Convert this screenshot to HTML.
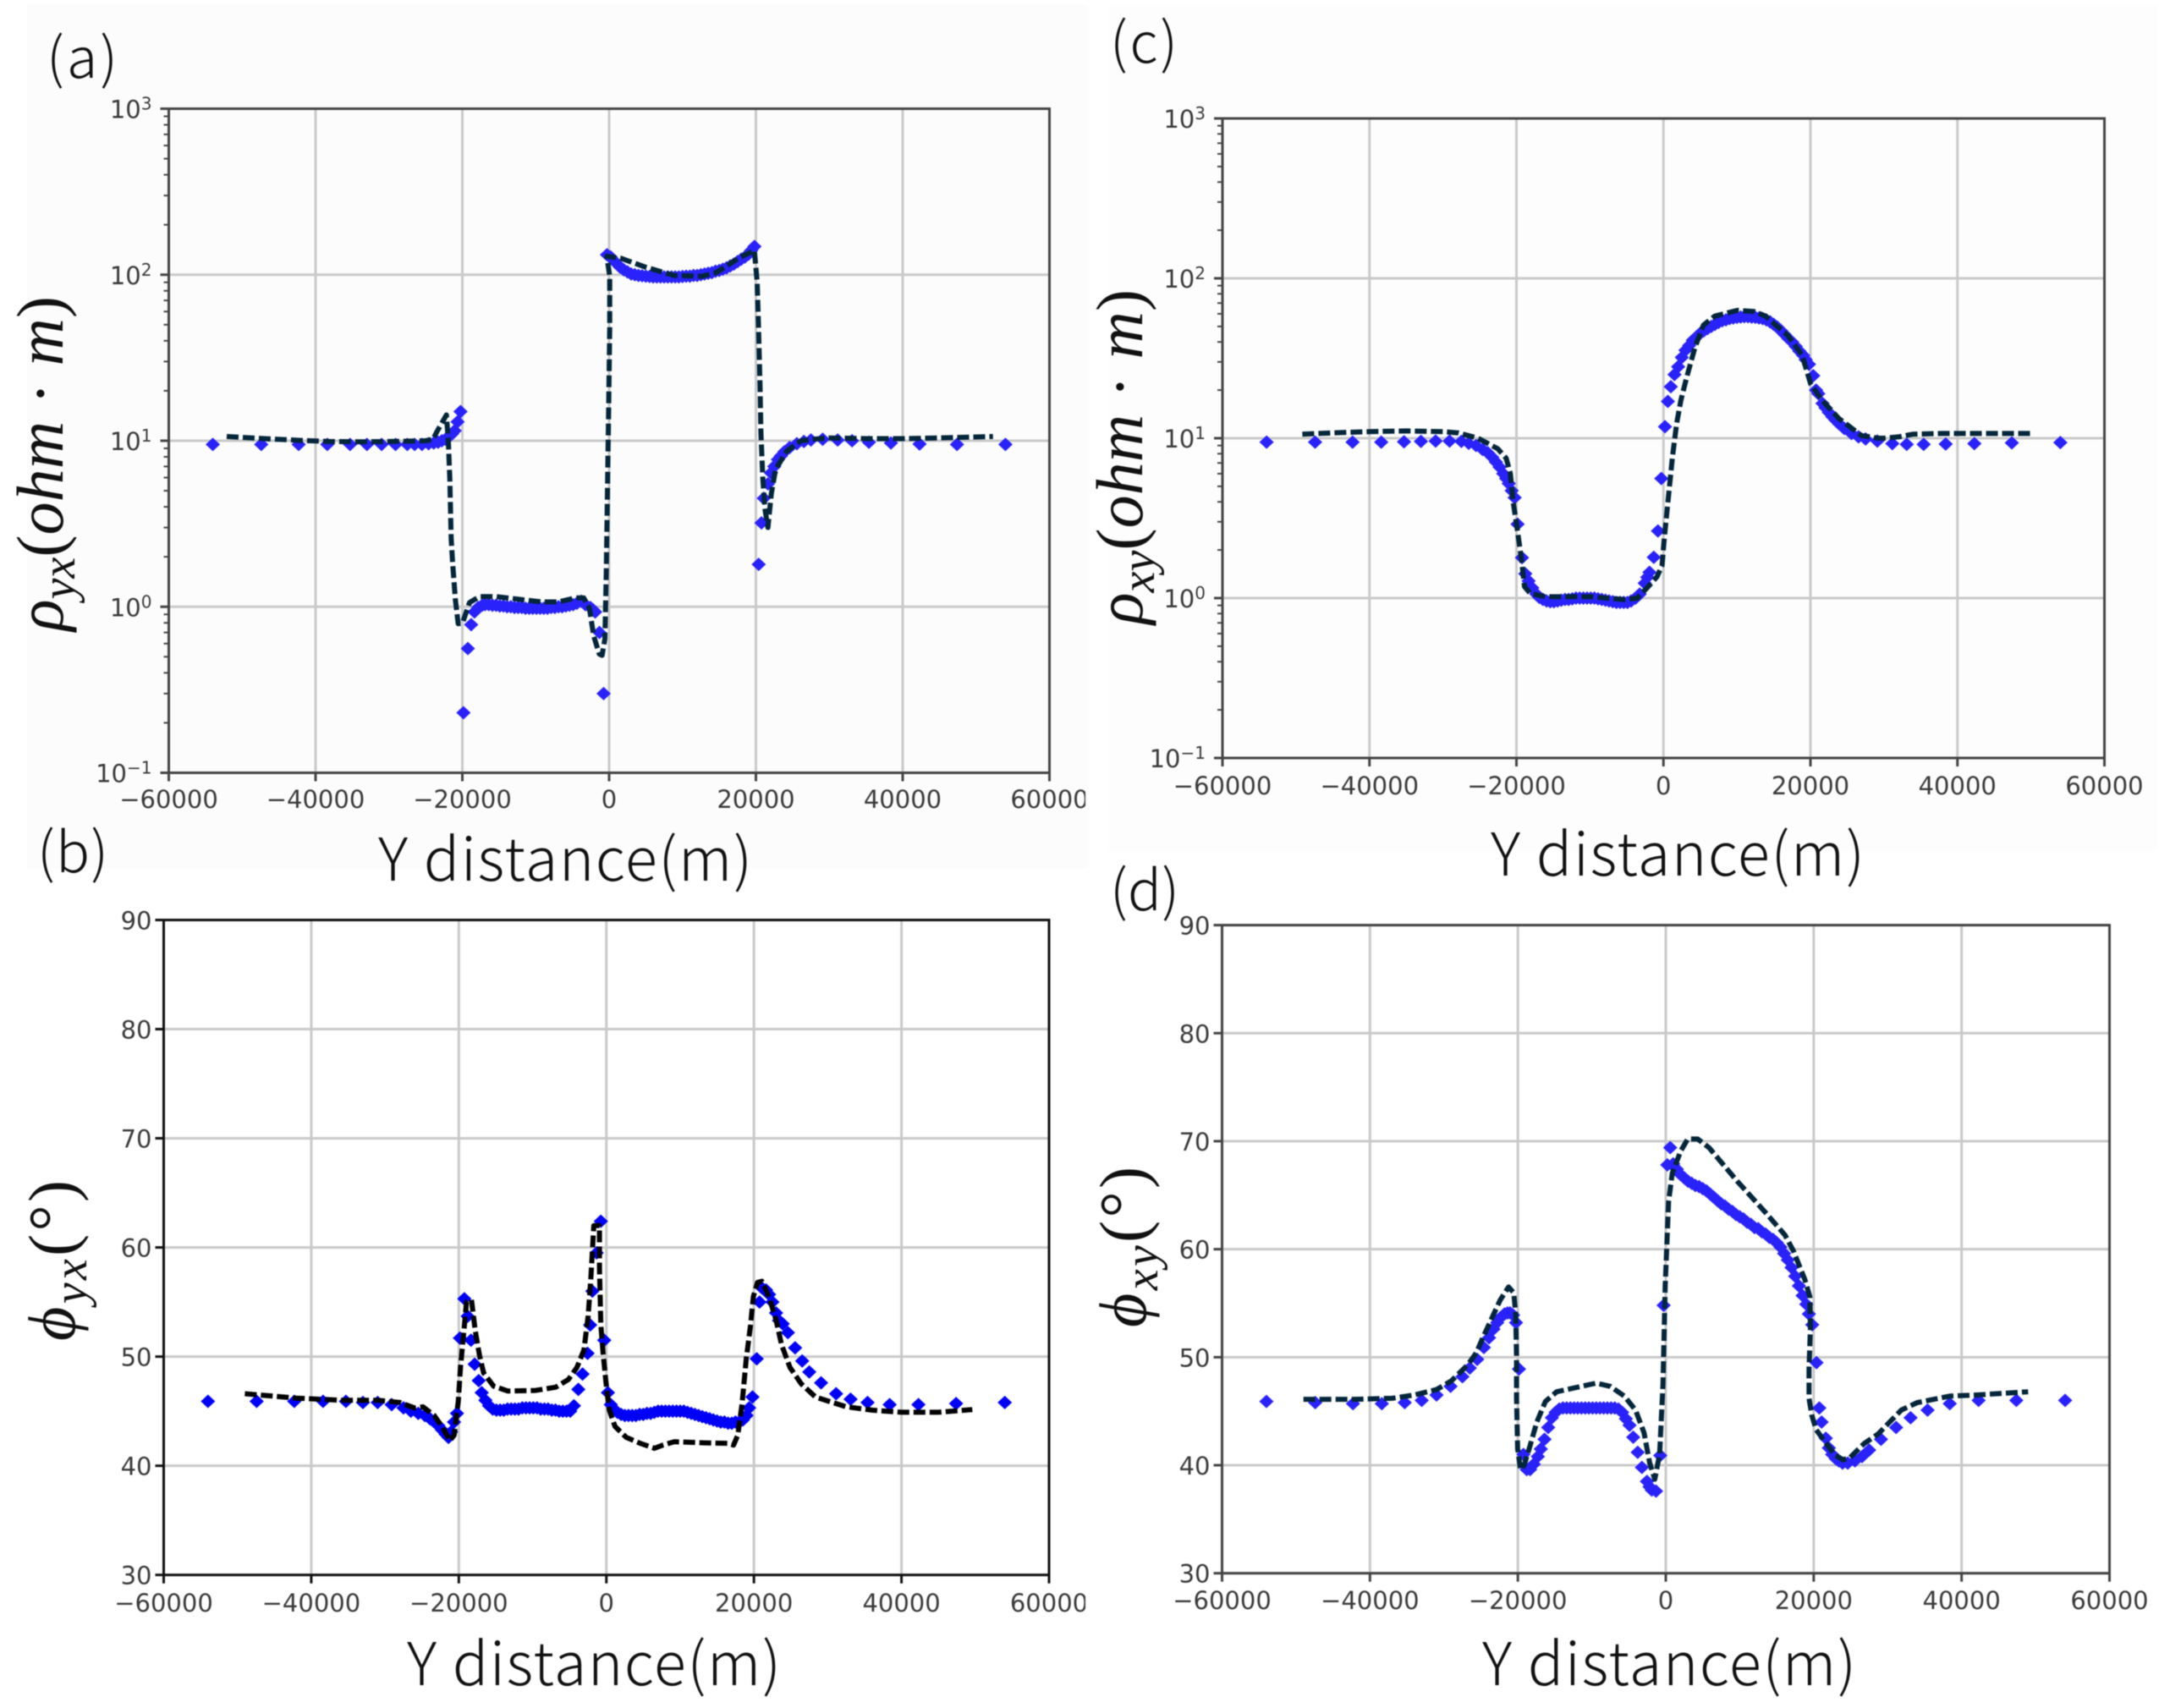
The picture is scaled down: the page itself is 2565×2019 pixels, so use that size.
<!DOCTYPE html>
<html>
<head>
<meta charset="utf-8">
<title>Apparent resistivity and phase profiles</title>
<style>
html,body{margin:0;padding:0;background:#fff;}
svg{display:block;filter:blur(0.6px);}
.tick-text{font-family:"DejaVu Sans",sans-serif;font-size:29px;fill:#3a3a3a;}
.title-x{font-family:"Noto Sans CJK JP","Liberation Sans",sans-serif;font-size:70px;font-weight:300;fill:#111;}
.panel-tag{font-family:"Noto Sans CJK JP","Liberation Sans",sans-serif;font-size:66px;font-weight:300;fill:#111;}
.title-y{font-family:"Liberation Serif",serif;font-size:78px;fill:#111;font-style:italic;}
.title-y .up{font-style:normal;}
</style>
</head>
<body>
<svg id="figure" xmlns="http://www.w3.org/2000/svg" width="2565" height="2019" viewBox="0 0 2565 2019">
  <defs>
    <clipPath id="clip-right"><rect x="0" y="0" width="1283" height="2019"/></clipPath>
  </defs>
  <rect x="0" y="0" width="2565" height="2019" fill="#ffffff"/>
  <rect x="32" y="6" width="1254" height="1020" fill="#fcfcfc"/>
  <rect x="1310" y="6" width="1240" height="1000" fill="#fdfdfd"/>
  <g id="panel-a"></g>
  <g id="panel-b"></g>
  <g id="panel-c"></g>
  <g id="panel-d"></g>

  <text class="panel-tag" x="55" y="92" textLength="84">(a)</text>
  <text class="panel-tag" x="44" y="1031" textLength="84">(b)</text>
  <text class="panel-tag" x="1312" y="74" textLength="80">(c)</text>
  <text class="panel-tag" x="1312" y="1076" textLength="82">(d)</text>

  <text class="title-x" x="447" y="1041" textLength="442" lengthAdjust="spacing">Y distance(m)</text>
  <text class="title-x" x="481" y="1992" textLength="442" lengthAdjust="spacing">Y distance(m)</text>
  <text class="title-x" x="1762" y="1035" textLength="442" lengthAdjust="spacing">Y distance(m)</text>
  <text class="title-x" x="1752" y="1992" textLength="442" lengthAdjust="spacing">Y distance(m)</text>

  <text class="title-y" transform="translate(74,746) rotate(-90)" textLength="396">ρ<tspan dy="14" font-size="56">yx</tspan><tspan dy="-14" class="up">(</tspan>ohm<tspan class="up"> · </tspan>m<tspan class="up">)</tspan></text>
  <text class="title-y" transform="translate(1350,738) rotate(-90)" textLength="396">ρ<tspan dy="14" font-size="56">xy</tspan><tspan dy="-14" class="up">(</tspan>ohm<tspan class="up"> · </tspan>m<tspan class="up">)</tspan></text>
  <text class="title-y" transform="translate(88,1585) rotate(-90)" textLength="190">ϕ<tspan dy="14" font-size="56">yx</tspan><tspan dy="-14" class="up">(°)</tspan></text>
  <text class="title-y" transform="translate(1354,1569) rotate(-90)" textLength="190">ϕ<tspan dy="14" font-size="56">xy</tspan><tspan dy="-14" class="up">(°)</tspan></text>
</svg>

<script>
// ---- shared axis values ----
const xTickValues = [-60000,-40000,-20000,0,20000,40000,60000];
const rhoTickExponents = [-1,0,1,2,3];
const phaseTickValues = [30,40,50,60,70,80,90];

// ---- observed station positions (metres) ----
const stationX = [
-54000,-47400,-42300,-38400,-35300,-33000,-31000,-29100,-27500,-26500,
-25500,-24600,-23900,-23300,-22800,-22300,-21800,-21400,-21050,-20650,
-20250,-19850,-19250,-18800,-18350,-17850,-17300,-16900,-16400,-15900,
-15400,-14900,-14400,-13900,-13400,-12900,-12400,-11900,-11400,-10900,
-10400,-9900,-9400,-8900,-8400,-7900,-7400,-6900,-6400,-5900,
-5400,-4900,-4400,-3800,-3230,-2550,-2200,-1900,-1320,-750,
-290,210,600,1000,1500,2000,2500,3000,3500,4000,
4500,5000,5500,6000,6500,7000,7500,8000,8500,9000,
9500,10000,10500,11000,11500,12000,12500,13000,13500,14000,
14500,15000,15500,16000,16500,17000,17500,18000,18500,19000,
19350,19800,20380,20760,21070,21640,22050,22500,23000,23400,
23900,24600,25580,26540,27500,29100,31140,33100,35400,38400,
42300,47400,54000];

// ---- panel (a) rho_yx ----
const rhoYxObserved = [
9.5,9.5,9.5,9.5,9.5,9.5,9.5,9.5,9.5,9.5,
9.5,9.6,9.7,9.8,10,10.2,10.6,11,11.5,13,
15,0.23,0.56,0.78,0.93,0.99,1.02,1.03,1.03,1.02,
1.02,1.01,1.01,1.0,1.0,0.99,0.99,0.99,0.98,0.98,
0.98,0.98,0.98,0.98,0.98,0.99,0.99,1.0,1.0,1.01,
1.02,1.03,1.05,1.08,1.03,0.99,0.96,0.93,0.70,0.30,
132,128,122,117,111,107,104,101,100,99,
98.5,98,97.5,97,97,97,97,97,97,97,
97,97.5,98,98,99,99,100,101,102,103,
105,106,108,110,113,116,120,124,128,133,
140,148,1.8,3.2,4.5,5.5,6.4,7.0,7.7,8.1,
8.6,9.1,9.6,9.9,10.1,10.2,10.1,10,9.8,9.7,
9.55,9.5,9.5];
const rhoYxModelX = [
-52100,-47000,-42000,-38000,-34000,-30000,-27000,-25000,-24000,-23440,
-22170,-21900,-21710,-21520,-21330,-20940,-20560,-19980,-19020,-17670,
-15370,-12300,-9220,-6920,-4610,-3460,-2690,-2110,-1350,-960,
-580,-380,-230,-80,80,80,-310,1530,5000,8840,
12680,14600,17650,19790,20170,20360,20560,20680,20950,21220,
21640,22100,22670,24210,26130,27700,30000,35000,40000,45000,
52300];
const rhoYxModelY = [
10.6,10.3,10.05,9.9,9.85,9.9,9.95,10,10.2,11.4,
14.3,9.8,5.9,2.57,1.84,1.1,0.79,0.8,1.06,1.15,
1.15,1.11,1.07,1.07,1.13,1.13,0.98,0.67,0.52,0.51,
0.64,1.68,4.82,13.7,47.7,98,129,126,111,99,
98,103,126,140,90,48,21,11.2,5.9,3.9,
3.0,4.8,6.7,8.67,10,10.2,10.4,10.3,10.3,10.4,
10.6];

// ---- panel (b) phi_yx ----
const phiYxObserved = [
45.9,45.9,45.9,45.9,45.9,45.8,45.8,45.6,45.3,45.0,
44.8,44.6,44.3,44.0,43.7,43.3,42.9,42.6,43.1,44.0,
44.8,51.7,55.3,53.7,51.5,49.3,47.8,46.7,46,45.5,
45.2,45.1,45.1,45.1,45.2,45.2,45.2,45.2,45.3,45.3,
45.3,45.3,45.3,45.2,45.2,45.2,45.1,45.1,45,45,
45,45,45.5,47,48.4,50.3,52.9,56,59.5,62.4,
51.5,46.7,45.6,45.2,44.9,44.7,44.6,44.6,44.6,44.6,
44.7,44.7,44.8,44.8,44.9,45,45,45,45,45,
45,45,45,44.9,44.8,44.7,44.6,44.5,44.4,44.3,
44.2,44.1,44,44,43.9,43.9,44,44,44.2,44.6,
45.3,46.3,49.8,55,56.3,56.1,55.7,55,54,53.3,
53,52.2,50.8,49.6,48.6,47.6,46.6,46.1,45.8,45.6,
45.6,45.7,45.8];
const phiYxModelX = [
-49000,-42000,-36000,-31000,-28000,-26000,-24860,-23330,-22180,-21220,
-20640,-20070,-19770,-19310,-18960,-18280,-17780,-17200,-16630,-15290,
-13370,-9580,-6870,-5140,-4000,-3040,-2470,-2090,-1700,-940,
-940,-750,-440,-60,400,1170,2700,4620,6520,7670,
9200,13410,16470,17240,17810,18390,18960,19540,19920,20490,
21070,22020,22980,23740,24890,26430,28340,30630,32550,36000,
40000,45000,49600];
const phiYxModelY = [
46.6,46.2,46,46,45.8,45.3,45.4,44.6,43.5,42.3,
42.8,45.9,49,52.4,55,55.2,52.4,50.1,48.5,47.3,
46.85,46.9,47.2,47.9,49,50.6,53.7,57.3,62,62,
58.06,52.9,50.3,47.7,45.1,43.6,42.6,42.05,41.6,41.9,
42.2,42.1,42.05,41.9,42.8,45.65,49.8,52.9,55.5,56.8,
56.9,55.5,53.4,51.1,49,47.5,46.3,45.8,45.4,45.1,
44.9,44.9,45.15];

// ---- panel (c) rho_xy ----
const rhoXyObserved = [
9.45,9.45,9.45,9.45,9.5,9.55,9.6,9.6,9.55,9.3,
9.0,8.5,8.1,7.6,7.1,6.6,6.0,5.6,5.2,4.7,
4.25,2.9,1.79,1.42,1.28,1.16,1.06,1.01,0.98,0.96,
0.95,0.95,0.96,0.97,0.98,0.98,0.99,1,1,1,
1,1,1,0.99,0.98,0.97,0.96,0.95,0.94,0.94,
0.94,0.94,0.96,1.0,1.06,1.24,1.35,1.45,1.8,2.63,
5.6,11.8,17,21,25,28,32,35.5,38,41,
43,45.3,47,48.5,50,51.5,53,54.3,55,56,
56.5,57,57.3,57.5,57.5,57.2,57,56.5,56,55,
53.5,51.5,49.5,47,44.5,42,40,37.5,35,33,
31,29,24.6,20,19,16.5,15.5,14.5,13.6,13,
12.3,11.5,10.7,10.2,9.9,9.6,9.25,9.15,9.15,9.2,
9.25,9.35,9.4];
const rhoXyModelX = [
-49130,-45000,-40000,-35000,-30000,-27930,-25240,-22550,-21400,-20830,
-20450,-19870,-19290,-18910,-18140,-16030,-9900,-5290,-3570,-2220,
-880,-190,80,460,840,1230,1800,2380,3140,4290,
5440,6980,10050,12350,13890,16950,18870,20020,21560,23860,
26930,29230,30000,32000,34000,38000,44000,50000];
const rhoXyModelY = [
10.6,10.8,11,11.1,11,10.8,10,8.6,7.5,6,
4,2.66,1.7,1.18,1.07,1.02,1.02,0.98,1.0,1.16,
1.36,1.6,2.26,3.4,5.07,7.65,12.4,17.3,23.8,37,
51,58,63,62,58,43.7,33,21.9,17.3,13.3,
10.4,10,10,10.2,10.6,10.7,10.7,10.7];

// ---- panel (d) phi_xy ----
const phiXyObserved = [
45.9,45.8,45.7,45.7,45.8,46,46.5,47.3,48.2,49,
49.8,50.9,51.8,52.6,53.2,53.7,54,54.1,54.1,53.9,
53.2,48.9,41.0,39.6,39.6,40.1,40.8,41.5,42.4,43.5,
44.4,44.9,45.2,45.3,45.3,45.3,45.3,45.3,45.3,45.3,
45.3,45.3,45.3,45.3,45.3,45.3,45.3,45.3,45.2,44.9,
44.3,43.7,42.6,41.2,39.8,38.5,38,37.7,37.6,40.9,
54.8,67.8,69.4,67.9,67.4,66.9,66.6,66.3,66.1,65.9,
65.8,65.6,65.4,65.1,64.8,64.5,64.2,64,63.7,63.5,
63.2,63,62.8,62.5,62.3,62,61.9,61.6,61.4,61.1,
60.9,60.6,60.2,59.6,59,58.3,57.5,56.6,55.7,54.9,
54,53,49.5,45.3,44,42.5,41.6,41,40.6,40.4,
40.2,40.2,40.4,40.8,41.4,42.4,43.5,44.4,45.1,45.7,
46,46,46];
const phiXyModelX = [
-49000,-42000,-37000,-34000,-31000,-29000,-26770,-25630,-24680,-23530,
-22390,-21250,-20560,-20290,-20180,-20180,-20030,-19640,-19150,-18390,
-17430,-16280,-14760,-12090,-9420,-7510,-5610,-4080,-2940,-2170,
-1490,-840,-380,-80,380,880,2030,2970,4310,5840,
9650,13470,16130,17280,18800,19480,19560,19370,19370,19760,
20330,21480,22800,23950,24900,26810,28720,31840,34000,38430,
42000,49000];
const phiXyModelY = [
46.1,46.1,46.2,46.5,47,47.8,49.3,50.4,51.9,53.6,
55.3,56.5,55.96,54,50.1,46.2,41.5,39.6,40,41.7,
44,45.9,46.8,47.2,47.6,47.3,46.4,45.1,43,40.2,
38.7,41,47.5,56.6,64.4,67.05,69.1,70.2,70.2,69.4,
66.3,63.4,61.3,59.8,57.2,55.6,52.8,48.9,46.2,44.6,
43.3,42.2,41,40.5,40.7,42,42.9,45.1,45.8,46.4,
46.5,46.8];

const SVG_NS = 'http://www.w3.org/2000/svg';
function make(parent, tag, attrs){
  const el = document.createElementNS(SVG_NS, tag);
  for (const k in attrs) el.setAttribute(k, attrs[k]);
  parent.appendChild(el);
  return el;
}
function drawPanel(p){
  const root = document.getElementById(p.id);
  const xScale = v => p.left + (v + 60000) / 120000 * (p.right - p.left);
  const yScale = p.log
    ? v => p.bottom - (Math.log10(v) + 1) / 4 * (p.bottom - p.top)
    : v => p.bottom - (v - 30) / 60 * (p.bottom - p.top);
  const yTicks = p.log ? rhoTickExponents.map(e => Math.pow(10, e)) : phaseTickValues;

  // grid
  xTickValues.forEach(v => {
    const g = make(root, 'line', {x1:xScale(v), x2:xScale(v), y1:p.top, y2:p.bottom, stroke:'#c9c9c9', 'stroke-width':3});
    
    
  });
  yTicks.forEach(v => {
    const g = make(root, 'line', {x1:p.left, x2:p.right, y1:yScale(v), y2:yScale(v), stroke:'#c9c9c9', 'stroke-width':3});
    
    
  });

  // observed markers
  stationX.forEach((sx, i) => {
    const cx = xScale(sx), cy = yScale(p.obs[i]);
    const d = make(root, 'path', {d:`M${cx} ${cy-8}L${cx+8.5} ${cy}L${cx} ${cy+8}L${cx-8.5} ${cy}Z`, fill:p.blue});
    
    
  });

  // model line
  const pts = p.modelX.map((mx, i) => xScale(mx).toFixed(1) + ',' + yScale(p.modelY[i]).toFixed(1)).join(' ');
  const line = make(root, 'polyline', {points:pts, fill:'none', stroke:p.lineColor, 'stroke-width':6, 'stroke-dasharray':'14 5', 'stroke-linejoin':'round'});
  
  

  // frame
  const frame = make(root, 'rect', {x:p.left, y:p.top, width:p.right-p.left, height:p.bottom-p.top, fill:'none', stroke:p.frameColor, 'stroke-width':3});
  
  

  // x ticks and labels
  xTickValues.forEach(v => {
    const t = make(root, 'line', {x1:xScale(v), x2:xScale(v), y1:p.bottom, y2:p.bottom+10, stroke:p.frameColor, 'stroke-width':3});
    
    
    const lab = make(root, 'text', {x:xScale(v), y:p.xLabelY, 'text-anchor':'middle', class:'tick-text'});
    if (p.clipRight) lab.setAttribute('clip-path', 'url(#clip-right)');
    lab.textContent = String(v).replace('-', '\u2212');
    
    
  });

  // y ticks and labels
  yTicks.forEach((v, i) => {
    const t = make(root, 'line', {x1:p.left-10, x2:p.left, y1:yScale(v), y2:yScale(v), stroke:p.frameColor, 'stroke-width':3});
    
    
    const lab = make(root, 'text', {x:p.left-(p.log?20:14), y:yScale(v)+11, 'text-anchor':'end', class:'tick-text'});
    
    
    if (p.log) {
      lab.textContent = '10';
      const sup = make(lab, 'tspan', {dy:-10, 'font-size':20});
      sup.textContent = String(rhoTickExponents[i]).replace('-', '\u2212');
    } else {
      lab.textContent = String(v);
    }
  });

  // log minor ticks
  if (p.log) {
    rhoTickExponents.slice(0, -1).forEach(e => {
      [2,3,4,5,6,7,8,9].forEach(m => {
        const mv = m * Math.pow(10, e);
        const t = make(root, 'line', {x1:p.left-6, x2:p.left, y1:yScale(mv), y2:yScale(mv), stroke:p.frameColor, 'stroke-width':2});
        
        
      });
    });
  }
}

drawPanel({id:'panel-a', left:199.5, right:1240.5, top:128.5, bottom:913.5, log:true, xLabelY:955, clipRight:true,
  obs:rhoYxObserved, modelX:rhoYxModelX, modelY:rhoYxModelY, blue:'#2a22fb', lineColor:'#04263a', frameColor:'#444'});
drawPanel({id:'panel-b', left:193.5, right:1240, top:1087.5, bottom:1861.7, log:false, xLabelY:1905, clipRight:true,
  obs:phiYxObserved, modelX:phiYxModelX, modelY:phiYxModelY, blue:'#0000f8', lineColor:'#000000', frameColor:'#111'});
drawPanel({id:'panel-c', left:1445, right:2487.5, top:140, bottom:896, log:true, xLabelY:939, clipRight:false,
  obs:rhoXyObserved, modelX:rhoXyModelX, modelY:rhoXyModelY, blue:'#2a22fb', lineColor:'#04263a', frameColor:'#444'});
drawPanel({id:'panel-d', left:1444.5, right:2493.5, top:1093.6, bottom:1859.7, log:false, xLabelY:1902, clipRight:false,
  obs:phiXyObserved, modelX:phiXyModelX, modelY:phiXyModelY, blue:'#2a22fb', lineColor:'#04263a', frameColor:'#444'});
</script>
</body>
</html>
